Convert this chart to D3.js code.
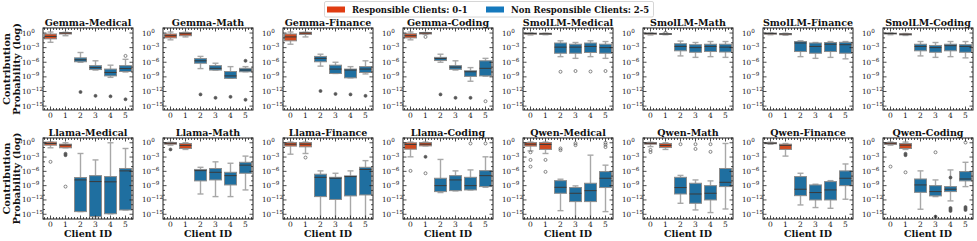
<!DOCTYPE html>
<html>
<head>
<meta charset="utf-8">
<script src="https://cdn.jsdelivr.net/npm/d3@7"></script>
<style>
body{margin:0;background:#fff}
text{font-family:"DejaVu Serif",serif;fill:#111}
</style>
</head>
<body>
<svg id="chart" width="977" height="241"></svg>
<script>
// box stats are log10 values: [whisker low, q1, median, q3, whisker high]
// outliers: [client, log10 value, count]
var clients = [0, 1, 2, 3, 4, 5];
var yTicks = [0, -3, -6, -9, -12, -15];
var legendLabels = ["Responsible Clients: 0-1", "Non Responsible Clients: 2-5"];

var gemmaMedicalBox = [[-1.9,-1.2,-0.7,-0.2,0.2],[-0.55,-0.2,0,0.1,0.15],[-6.0,-5.9,-5.5,-5.1,-4.0],[-7.6,-7.5,-7.1,-6.7,-5.7],[-9.1,-8.8,-8.1,-7.4,-6.6],[-8.0,-7.9,-7.3,-6.7,-5.4]];
var gemmaMedicalOut = [[2,-12.1,3],[3,-12.9,3],[4,-13.0,3],[5,-13.6,3],[5,-4.7,1]];
var gemmaMathBox = [[-1.4,-1.0,-0.55,-0.2,0.2],[-0.8,-0.55,-0.15,0.1,0.15],[-7.3,-6.2,-5.7,-5.25,-4.8],[-7.6,-7.6,-7.25,-6.7,-6.2],[-9.3,-9.3,-8.8,-7.9,-6.9],[-7.95,-7.95,-7.6,-7.25,-6.9]];
var gemmaMathOut = [[2,-12.6,3],[3,-13.3,3],[4,-13.1,3],[5,-13.7,3],[5,-5.7,3]];
var gemmaFinanceBox = [[-2.3,-1.6,-0.8,-0.2,0.2],[-0.8,-0.3,0,0.15,0.15],[-6.8,-5.9,-5.2,-4.8,-4.35],[-8.3,-8.3,-7.4,-6.6,-6.0],[-9.2,-9.2,-7.6,-7.4,-6.9],[-8.4,-8.1,-7.4,-6.9,-5.7]];
var gemmaFinanceOut = [[2,-11.9,3],[3,-12.5,3],[4,-12.6,3],[5,-12.9,3]];
var gemmaCodingBox = [[-1.4,-1.0,-0.55,-0.15,0.2],[-0.3,-0.2,0,0.1,0.1],[-6.0,-5.65,-5.25,-5.0,-4.35],[-7.6,-7.45,-7.0,-6.7,-5.7],[-9.9,-8.9,-7.95,-7.75,-7.1],[-8.85,-8.8,-7.25,-5.7,-5.2]];
var gemmaCodingOut = [[1,-0.8,1],[2,-12.6,3],[3,-13.3,3],[4,-13.3,3],[5,-14.0,1]];

var smolMedicalBox = [[-0.4,-0.25,-0.1,0,0.05],[-0.35,-0.3,-0.15,-0.05,-0.05],[-4.85,-4.15,-2.9,-2.05,-1.6],[-5.2,-4.15,-2.9,-2.3,-1.95],[-4.85,-4.0,-2.75,-2.05,-1.6],[-5.2,-4.15,-3.0,-2.3,-1.75]];
var smolMedicalOut = [[2,-7.95,1],[3,-7.8,1],[4,-7.9,1],[5,-7.8,1]];
var smolMathBox = [[-0.4,-0.25,-0.1,0,0.05],[-0.35,-0.3,-0.2,-0.1,-0.05],[-4.7,-3.65,-2.75,-2.2,-1.65],[-5.0,-3.95,-3.0,-2.4,-1.95],[-4.85,-3.8,-2.75,-2.3,-1.75],[-5.0,-3.9,-2.9,-2.3,-1.75]];
var smolMathOut = [[1,0.05,1]];
var smolFinanceBox = [[-0.35,-0.25,-0.1,0,0.05],[-0.45,-0.35,-0.2,-0.1,-0.05],[-4.85,-3.8,-2.05,-1.75,-1.6],[-5.2,-4.15,-2.75,-2.05,-1.95],[-5.0,-3.8,-2.3,-1.95,-1.75],[-5.3,-4.15,-2.4,-1.9,-1.75]];
var smolFinanceOut = [];
var smolCodingBox = [[-0.35,-0.2,-0.1,0,0.05],[-0.5,-0.4,-0.25,-0.15,-0.1],[-4.7,-3.65,-2.75,-2.3,-1.75],[-5.0,-3.95,-3.0,-2.55,-1.95],[-4.85,-3.65,-2.6,-2.3,-1.75],[-5.1,-3.95,-2.75,-2.4,-1.75]];
var smolCodingOut = [];

var llamaMedicalBox = [[-1.05,-0.5,-0.15,0.15,0.15],[-1.05,-1.05,-0.5,-0.3,0],[-14.45,-14.45,-7.8,-7.3,-2.25],[-15.5,-15.5,-8.15,-6.9,-3.6],[-14.9,-14.9,-8.2,-7.1,0],[-14.1,-14.1,-5.9,-5.4,-1.2]];
var llamaMedicalOut = [[0,-4.0,1],[1,-2.3,3],[1,-2.6,3],[1,-9.2,1]];
var llamaMathBox = [[-0.5,-0.3,-0.1,0.05,0.1],[-1.4,-1.2,-0.55,-0.15,0],[-10.75,-8.0,-5.85,-5.6,-5.15],[-11.3,-7.8,-6.2,-5.4,-4.0],[-11.3,-8.85,-6.9,-6.2,-4.3],[-9.9,-6.4,-4.7,-4.1,-2.8]];
var llamaMathOut = [[0,-1.4,3]];
var llamaFinanceBox = [[-2.4,-0.7,-0.3,0.05,0.15],[-2.25,-0.85,-0.3,0.05,0.15],[-16.5,-11.3,-7.25,-6.6,-5.9],[-16.5,-11.9,-7.45,-7.25,-6.4],[-16.5,-11.15,-7.1,-6.95,-5.9],[-16.5,-10.95,-5.6,-5.15,-3.75]];
var llamaFinanceOut = [[1,-3.1,1]];
var llamaCodingBox = [[-2.95,-1.35,-0.35,0,0.15],[-0.65,-0.65,-0.3,0.05,0.15],[-10.45,-10.25,-9.0,-7.45,-3.5],[-10.1,-10.05,-7.8,-6.9,-5.9],[-9.9,-9.9,-9.0,-7.25,-5.7],[-9.35,-9.2,-6.9,-5.85,-2.95]];
var llamaCodingOut = [[0,-5.9,1],[1,-2.95,3],[1,-6.4,1],[4,-0.15,1],[5,-0.15,1]];

var qwenMedicalBox = [[-1.7,-0.7,-0.3,0.05,0.15],[-2.25,-1.4,-0.35,0.05,0.15],[-14.25,-10.6,-9.35,-7.95,-7.65],[-16.5,-12.35,-10.6,-9.4,-9.05],[-16.5,-12.35,-10.05,-8.5,-2.6],[-14.45,-9.4,-7.45,-6.05,-4.7]];
var qwenMedicalOut = [[0,-2.0,1],[0,-3.6,1],[0,-5.0,1],[1,-3.6,1],[1,-6.1,1],[2,-1.2,1],[2,-1.55,1],[3,-0.1,1],[3,-0.5,1],[5,0,1],[5,-0.4,1],[5,-0.9,1]];
var qwenMathBox = [[-0.8,-0.3,-0.1,0.05,0.1],[-1.4,-1.0,-0.55,-0.15,0],[-12.7,-10.75,-9.4,-7.25,-6.85],[-14.1,-12.7,-10.75,-8.5,-7.8],[-14.65,-12.0,-10.6,-9.0,-8.0],[-13.9,-9.2,-8.3,-5.4,-0.15]];
var qwenMathOut = [[0,-1.5,1],[0,-1.95,1],[2,-0.3,1],[3,-0.3,1],[3,-1.3,1],[4,-0.3,1],[4,-1.9,1]];
var qwenFinanceBox = [[-0.3,-0.2,-0.1,0.05,0.1],[-2.8,-1.4,-0.55,-0.3,-0.15],[-13.05,-11.1,-9.75,-7.1,-6.4],[-13.6,-12.0,-10.45,-8.85,-8.7],[-13.75,-12.0,-9.9,-8.15,-7.95],[-11.85,-9.0,-7.45,-5.9,-4.45]];
var qwenFinanceOut = [];
var qwenCodingBox = [[-0.5,-0.35,-0.1,0.05,0.15],[-1.4,-1.2,-0.5,-0.15,0.15],[-13.95,-10.4,-8.85,-7.6,-5.9],[-11.3,-11.15,-10.25,-9.0,-7.8],[-12.2,-10.25,-9.75,-9.2,-5.7],[-9.2,-8.0,-7.6,-6.05,-4.1]];
var qwenCodingOut = [[0,-5.0,1],[1,-2.3,3],[1,-2.6,3],[1,-6.2,1],[3,-2.0,1],[3,-15.5,3],[4,-7.3,3],[4,-13.7,3],[4,-14.0,3],[4,-14.3,3],[5,0.05,1],[5,-13.5,3],[5,-13.8,3],[5,-14.1,3]];

var panels = [
	["Gemma-Medical", gemmaMedicalBox, gemmaMedicalOut],
	["Gemma-Math", gemmaMathBox, gemmaMathOut],
	["Gemma-Finance", gemmaFinanceBox, gemmaFinanceOut],
	["Gemma-Coding", gemmaCodingBox, gemmaCodingOut],
	["SmolLM-Medical", smolMedicalBox, smolMedicalOut],
	["SmolLM-Math", smolMathBox, smolMathOut],
	["SmolLM-Finance", smolFinanceBox, smolFinanceOut],
	["SmolLM-Coding", smolCodingBox, smolCodingOut],
	["Llama-Medical", llamaMedicalBox, llamaMedicalOut],
	["Llama-Math", llamaMathBox, llamaMathOut],
	["Llama-Finance", llamaFinanceBox, llamaFinanceOut],
	["Llama-Coding", llamaCodingBox, llamaCodingOut],
	["Qwen-Medical", qwenMedicalBox, qwenMedicalOut],
	["Qwen-Math", qwenMathBox, qwenMathOut],
	["Qwen-Finance", qwenFinanceBox, qwenFinanceOut],
	["Qwen-Coding", qwenCodingBox, qwenCodingOut]
];

var svg = d3.select("#chart");
var legendRed = "#e03c12", legendBlue = "#1579bd";
var boxRed = "#cf4a20", boxBlue = "#1f6fa0";
var rowTop = [28, 138], rowH = [82, 81];
var rowDomain = [[-15.8, 1.03], [-16.0, 1.0]];
var colLeft = 43, colStep = 120, panelW = 90;
var p10 = function(e){ return Math.pow(10, e); };

var defs = svg.append("defs");

panels.forEach(function(p, i){
	var row = Math.floor(i / 8), col = i % 8;
	var left = colLeft + col * colStep, top = rowTop[row], h = rowH[row];
	var x = d3.scaleLinear().domain([-0.5, 5.5]).range([left, left + panelW]);
	var y = d3.scaleLog().domain(rowDomain[row].map(p10)).range([top + h, top]);
	var bw = (x(1) - x(0)) * 0.8;

	defs.append("clipPath").attr("id", "clip" + i)
		.append("rect").attr("x", left).attr("y", top).attr("width", panelW).attr("height", h);

	var g = svg.append("g").attr("clip-path", "url(#clip" + i + ")");
	var boxes = g.selectAll("g.box").data(p[1]).enter().append("g").attr("class", "box");

	// whiskers + caps, then box and median
	boxes.each(function(d, k){
		var b = d3.select(this), cx = x(clients[k]);
		b.append("line").attr("x1", cx).attr("x2", cx).attr("y1", y(p10(d[0]))).attr("y2", y(p10(d[1])));
		b.append("line").attr("x1", cx).attr("x2", cx).attr("y1", y(p10(d[3]))).attr("y2", y(p10(d[4])));
		b.append("line").attr("x1", cx - bw / 4).attr("x2", cx + bw / 4).attr("y1", y(p10(d[0]))).attr("y2", y(p10(d[0])));
		b.append("line").attr("x1", cx - bw / 4).attr("x2", cx + bw / 4).attr("y1", y(p10(d[4]))).attr("y2", y(p10(d[4])));
		b.selectAll("line").attr("stroke", "#a8a8a8").attr("stroke-width", 1.4);
		b.append("rect")
			.attr("x", cx - bw / 2).attr("width", bw)
			.attr("y", y(p10(d[3]))).attr("height", Math.max(1, y(p10(d[1])) - y(p10(d[3]))))
			.attr("fill", k < 2 ? boxRed : boxBlue)
			.attr("stroke", "#8c8c8c").attr("stroke-width", 1);
		b.append("line").attr("x1", cx - bw / 2).attr("x2", cx + bw / 2)
			.attr("y1", y(p10(d[2]))).attr("y2", y(p10(d[2])))
			.attr("stroke", "#3a3a3a").attr("stroke-width", 1);
	});

	g.selectAll("circle").data(p[2]).enter().append("circle")
		.attr("cx", function(d){ return x(d[0]); })
		.attr("cy", function(d){ return y(p10(d[1])); })
		.attr("r", 1.5)
		.attr("fill", function(d){ return d[2] > 1 ? "#555" : "none"; })
		.attr("stroke", "#555").attr("stroke-width", 0.7);

	// frame
	svg.append("rect").attr("x", left).attr("y", top).attr("width", panelW).attr("height", h)
		.attr("fill", "none").attr("stroke", "#222").attr("stroke-width", 1);

	// ticks, inward on all sides
	var tk = svg.append("g").attr("stroke", "#222").attr("stroke-width", 0.8);
	d3.range(-16, 2).forEach(function(e){
		if (e < rowDomain[row][0] || e > rowDomain[row][1]) return;
		var len = e % 3 === 0 ? 3.5 : 2, yy = y(p10(e));
		tk.append("line").attr("x1", left).attr("x2", left + len).attr("y1", yy).attr("y2", yy);
		tk.append("line").attr("x1", left + panelW).attr("x2", left + panelW - len).attr("y1", yy).attr("y2", yy);
	});
	d3.range(-0.4, 5.5, 0.2).forEach(function(v){
		var major = Math.abs(v - Math.round(v)) < 0.01, len = major ? 3.5 : 2, xx = x(v);
		tk.append("line").attr("x1", xx).attr("x2", xx).attr("y1", top + h).attr("y2", top + h - len);
		tk.append("line").attr("x1", xx).attr("x2", xx).attr("y1", top).attr("y2", top + len);
	});

	// tick labels
	yTicks.forEach(function(e){
		var t = svg.append("text").attr("x", left - 21).attr("y", y(p10(e)) + 2.5)
			.attr("font-size", 7.2);
		t.append("tspan").text("10");
		t.append("tspan").attr("dy", -3).attr("font-size", 5.6).text(e === 0 ? "0" : "\u2212" + (-e));
	});
	svg.selectAll(null).data(clients).enter().append("text")
		.attr("x", function(d){ return x(d); }).attr("y", top + h + 7.5)
		.attr("text-anchor", "middle").attr("font-size", 7.5)
		.text(function(d){ return d; });

	svg.append("text").attr("x", left + panelW / 2).attr("y", top - 2.5)
		.attr("text-anchor", "middle").attr("font-size", 9.5).attr("font-weight", "bold")
		.text(p[0]);

	if (col === 0) {
		var cy = top + h / 2;
		svg.append("text").attr("transform", "translate(10," + cy + ") rotate(-90)")
			.attr("text-anchor", "middle").attr("font-size", 10).attr("font-weight", "bold")
			.text("Contribution");
		svg.append("text").attr("transform", "translate(20," + cy + ") rotate(-90)")
			.attr("text-anchor", "middle").attr("font-size", 10).attr("font-weight", "bold")
			.text("Probability (log)");
	}
	if (row === 1) {
		svg.append("text").attr("x", left + panelW / 2).attr("y", 237)
			.attr("text-anchor", "middle").attr("font-size", 9.5).attr("font-weight", "bold")
			.text("Client ID");
	}
});

// legend
var lg = svg.append("g");
lg.append("rect").attr("x", 324.5).attr("y", 1.5).attr("width", 329).attr("height", 15.5)
	.attr("fill", "#fff").attr("stroke", "#ccc").attr("stroke-width", 0.8).attr("rx", 1.5);
var lx = [327, 486];
legendLabels.forEach(function(l, k){
	lg.append("rect").attr("x", lx[k]).attr("y", 6.5).attr("width", 18).attr("height", 6)
		.attr("fill", k === 0 ? legendRed : legendBlue);
	lg.append("text").attr("x", lx[k] + 25).attr("y", 12.5)
		.attr("font-size", 8.5).attr("font-weight", "bold").text(l);
});
</script>
</body>
</html>
